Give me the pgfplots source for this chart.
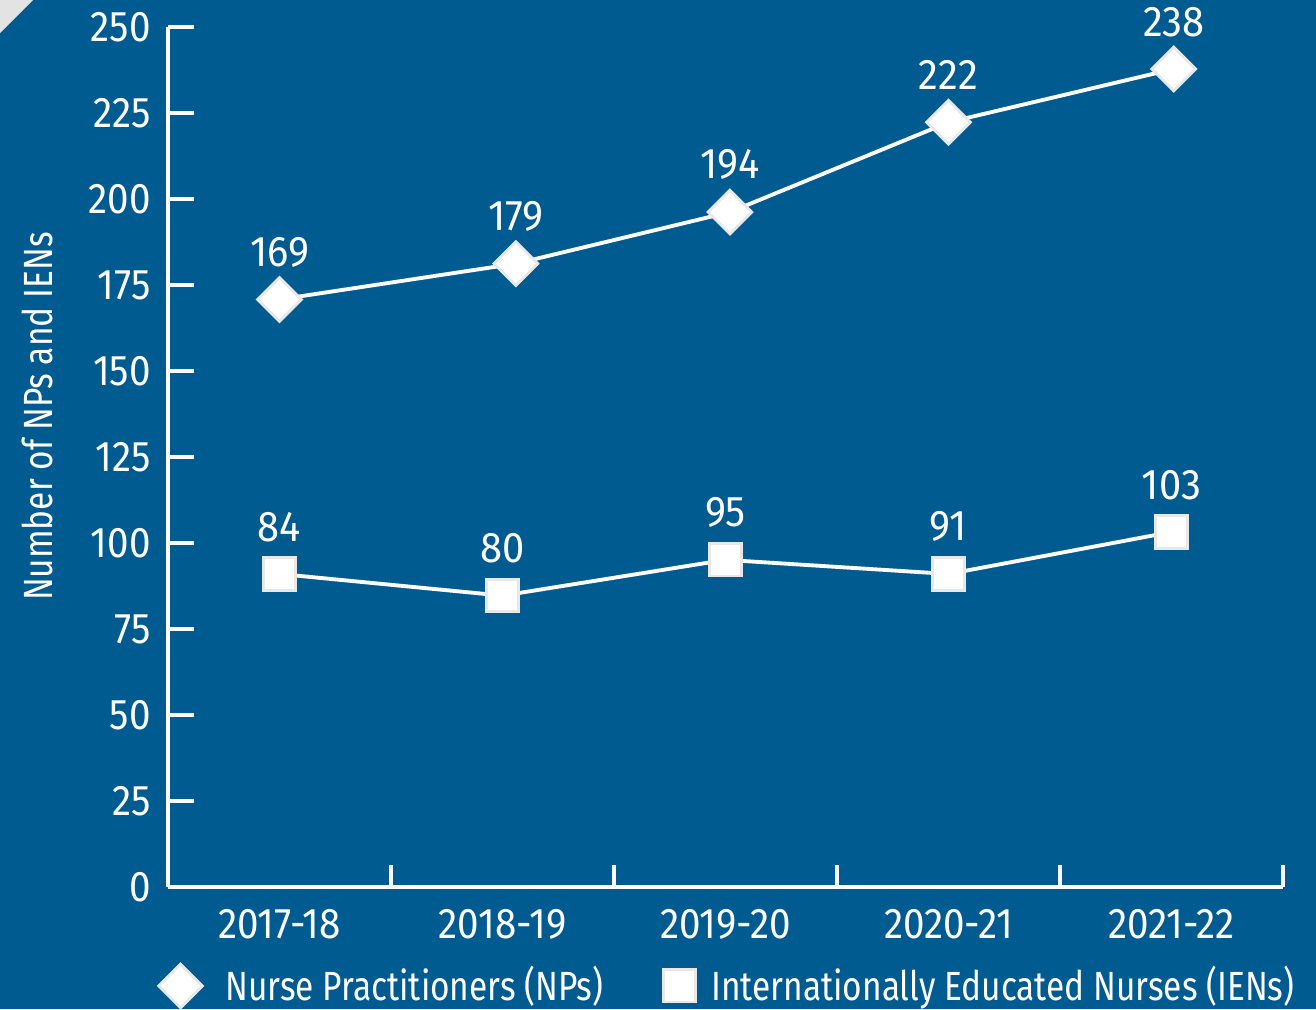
\documentclass[border=0pt]{standalone}
\usepackage{pgfplots}
\pgfplotsset{compat=1.18}
\usepackage{fontspec}
\setmainfont{Fira Sans}[FakeStretch=0.82]
\newfontfamily\tickfont{Fira Sans}[FakeStretch=0.9]
\newfontfamily\labfont{Fira Sans}[FakeStretch=0.93]
\definecolor{bg}{RGB}{0,91,145}
\definecolor{edge}{RGB}{232,232,232}
\pgfplotsset{ienleg/.style={legend image code/.code={\draw[mark repeat=2,mark phase=2,##1] plot coordinates {(0cm,0cm)(0.42cm,0cm)(0.67cm,0cm)};}}}
\begin{document}
\begin{tikzpicture}[x=1cm,y=1cm]
\useasboundingbox (0,0) rectangle (13.16,10.09);
\fill[bg] (0,0) rectangle (13.16,10.09);
\fill[gray!22] (0,10.09) -- (0.33,10.09) -- (0,9.76) -- cycle;
\begin{axis}[
  at={(1.68cm,1.22cm)}, anchor=south west,
  scale only axis, width=11.15cm, height=8.60cm,
  xmin=-0.5, xmax=4.5, ymin=0, ymax=250,
  clip=false,
  axis lines*=left,
  axis line style={white, line width=0.95pt},
  every tick/.style={white, line width=0.95pt},
  tick align=inside,
  major tick length=0.26cm, minor tick length=0.22cm,
  ytick={0,25,...,250},
  xtick={0,1,2,3,4},
  xticklabels={2017-18,2018-19,2019-20,2020-21,2021-22},
  minor xtick={0.5,1.5,2.5,3.5,4.5},
  major x tick style={draw=none},
  tick label style={text=white, font=\tickfont\fontsize{12.2}{14}\selectfont},
  /pgf/number format/assume math mode=true,
  yticklabel style={xshift=-0.05cm},
  xticklabel style={yshift=-0.1cm},
  ylabel={Number of NPs and IENs},
  ylabel style={at={(axis description cs:-0.1175,0.547)}, anchor=center, text=white, font=\fontsize{11.6}{13}\selectfont},
  legend style={at={(axis description cs:-0.009,-0.115)}, anchor=west, draw=none, fill=none, inner sep=0pt, text=white, font=\fontsize{11.6}{13}\selectfont,
    /tikz/column 1/.style={column sep=0.16cm},
    /tikz/column 2/.style={column sep=0.53cm},
    /tikz/column 3/.style={column sep=0.09cm}},
  legend columns=2,
  legend cell align=left,
  point meta=explicit symbolic,
  every node near coord/.style={anchor=south, inner sep=0pt, yshift=3.1mm, text=white, font=\labfont\fontsize{12.2}{14}\selectfont},
]
\addplot[white, line width=1.1pt, mark=square*, mark size=4.4pt,
  mark options={rotate=45, fill=white, draw=edge, line width=0.8pt},
  nodes near coords, forget plot] coordinates {
  (0,170.8) [169]
  (1.06,181.2) [179]
  (2.02,196.2) [194]
  (3,222.3) [222]
  (4.01,237.8) [238]
};
\addplot[white, line width=1.1pt, mark=square*, mark size=4.6pt,
  mark options={fill=white, draw=edge, line width=0.8pt},
  nodes near coords, forget plot] coordinates {
  (0,91.0) [84]
  (1,84.7) [80]
  (2,95.1) [95]
  (3,91.0) [91]
  (4,103.2) [103]
};
\addlegendimage{only marks, mark=square*, mark size=4.4pt, mark options={rotate=45, fill=white, draw=edge, line width=0.8pt}}
\addlegendentry{Nurse Practitioners (NPs)}
\addlegendimage{only marks, mark=square*, mark size=4.6pt, mark options={fill=white, draw=edge, line width=0.8pt}, ienleg}
\addlegendentry{Internationally Educated Nurses (IENs)}
\end{axis}
\end{tikzpicture}
\end{document}
